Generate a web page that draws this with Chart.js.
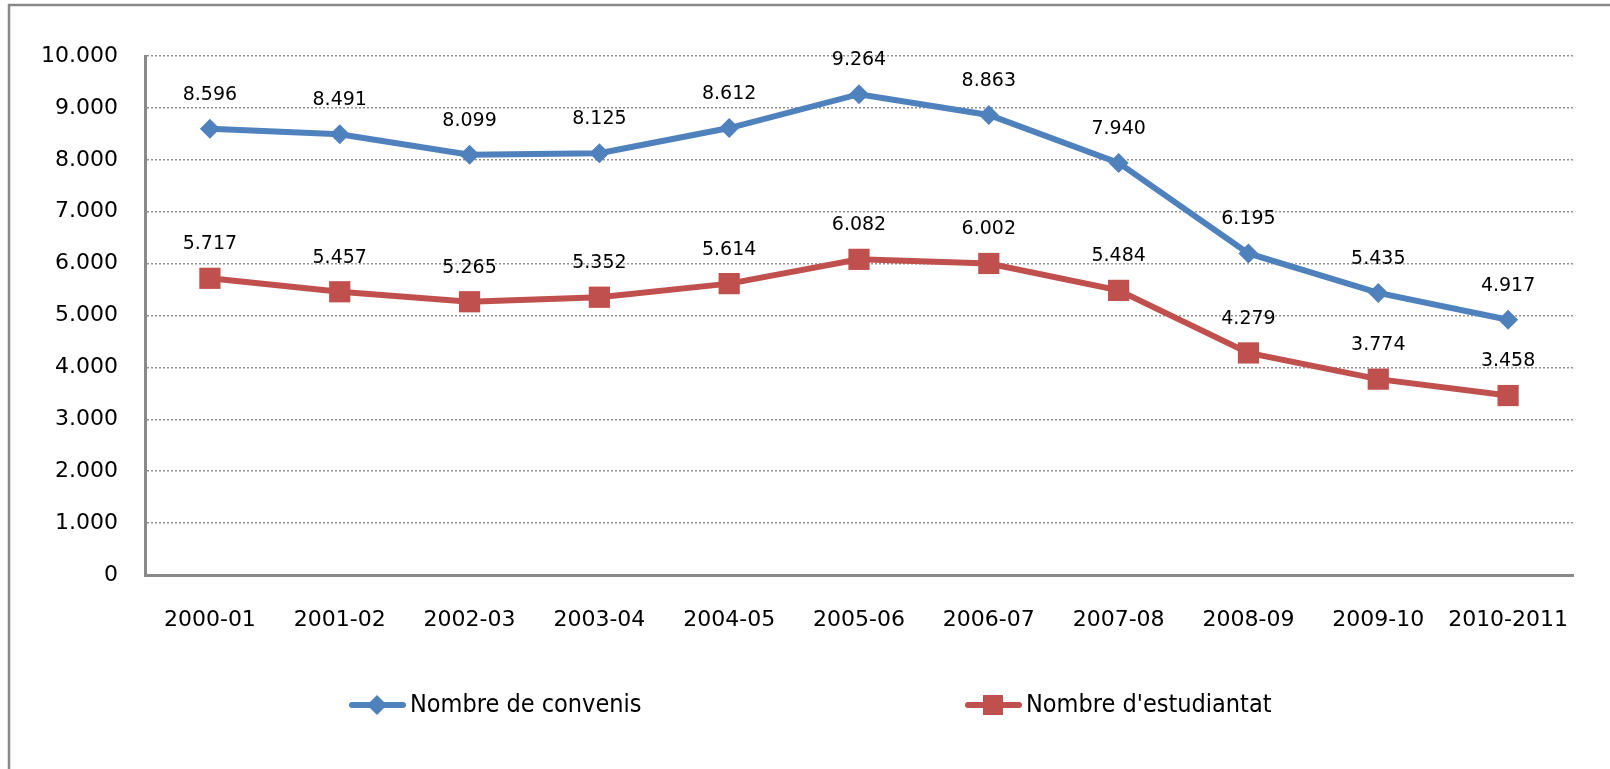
<!DOCTYPE html>
<html>
<head>
<meta charset="utf-8">
<title>Convenis i estudiantat</title>
<script src="https://cdn.jsdelivr.net/npm/chart.js@4/dist/chart.umd.min.js"></script>
<style>
  body { margin: 0; background: #fff; }
  canvas { display: block; }
</style>
</head>
<body>
<canvas id="chart" width="1610" height="769"></canvas>
<script>
'use strict'

// DATA
const cursos = ['2000-01', '2001-02', '2002-03', '2003-04', '2004-05', '2005-06', '2006-07', '2007-08', '2008-09', '2009-10', '2010-2011'];
const convenis = [8596, 8491, 8099, 8125, 8612, 9264, 8863, 7940, 6195, 5435, 4917];
const estudiantat = [5717, 5457, 5265, 5352, 5614, 6082, 6002, 5484, 4279, 3774, 3458];
const seriesNames = ['Nombre de convenis', "Nombre d'estudiantat"];

const blue = '#4F81BD';
const red = '#C0504D';
const axisGray = '#898989';
const mainFont = '"DejaVu Sans", Verdana, sans-serif';
const legendFont = '"Liberation Sans Narrow", "DejaVu Sans Condensed", sans-serif';

// 8596 -> 8.596
function fmt(v){
  return String(v).replace(/\B(?=(\d{3})+(?!\d))/g, '.');
}

// outer frame: only top and left edges are inside the picture
const framePlugin = {
  id: 'frame',
  beforeDraw(chart){
    const ctx = chart.ctx;
    ctx.save();
    ctx.strokeStyle = axisGray;
    ctx.lineWidth = 2.5;
    ctx.beginPath();
    ctx.moveTo(9, chart.height);
    ctx.lineTo(9, 5);
    ctx.lineTo(chart.width, 5);
    ctx.stroke();
    ctx.restore();
  }
};

// value labels above each point
const labelPlugin = {
  id: 'valueLabels',
  afterDatasetsDraw(chart){
    const ctx = chart.ctx;
    ctx.save();
    ctx.font = '19px ' + mainFont;
    ctx.fillStyle = '#000';
    ctx.textAlign = 'center';
    ctx.textBaseline = 'middle';
    chart.data.datasets.forEach(function(ds, i){
      const meta = chart.getDatasetMeta(i);
      meta.data.forEach(function(pt, j){
        ctx.fillText(fmt(ds.data[j]), pt.x, pt.y - 34);
      });
    });
    ctx.restore();
  }
};

// excel style legend: line + marker + text
const legendPlugin = {
  id: 'lineLegend',
  afterDraw(chart){
    const ctx = chart.ctx;
    const starts = [349, 965];
    const y = 705;
    ctx.save();
    chart.data.datasets.forEach(function(ds, i){
      const x0 = starts[i];
      ctx.strokeStyle = ds.borderColor;
      ctx.lineWidth = 6;
      ctx.lineCap = 'round';
      ctx.beginPath();
      ctx.moveTo(x0 + 3, y);
      ctx.lineTo(x0 + 54, y);
      ctx.stroke();
      ctx.fillStyle = ds.pointBackgroundColor;
      const cx = x0 + 28;
      if (ds.pointStyle === 'rectRot') {
        ctx.beginPath();
        ctx.moveTo(cx - 10, y);
        ctx.lineTo(cx, y - 10);
        ctx.lineTo(cx + 10, y);
        ctx.lineTo(cx, y + 10);
        ctx.closePath();
        ctx.fill();
      } else {
        ctx.fillRect(cx - 10, y - 10, 20, 20);
      }
      ctx.fillStyle = '#000';
      ctx.font = '25px ' + legendFont;
      ctx.textAlign = 'left';
      ctx.textBaseline = 'middle';
      ctx.fillText(ds.label, x0 + 61, y);
    });
    ctx.restore();
  }
};

const ctx = document.getElementById('chart').getContext('2d');
const chart = new Chart(ctx, {
  type: 'line',
  data: {
    labels: cursos,
    datasets: [
      {
        label: seriesNames[0],
        data: convenis,
        borderColor: blue,
        backgroundColor: blue,
        pointBackgroundColor: blue,
        pointBorderColor: blue,
        borderWidth: 6,
        pointStyle: 'rectRot',
        pointRadius: 10,
        pointBorderWidth: 0,
        tension: 0,
        fill: false
      },
      {
        label: seriesNames[1],
        data: estudiantat,
        borderColor: red,
        backgroundColor: red,
        pointBackgroundColor: red,
        pointBorderColor: red,
        borderWidth: 6,
        pointStyle: 'rect',
        pointRadius: 15,
        pointBorderWidth: 0,
        tension: 0,
        fill: false
      }
    ]
  },
  options: {
    responsive: false,
    animation: false,
    devicePixelRatio: 1,
    layout: { padding: { top: 56, right: 37, left: 20, bottom: 0 } },
    plugins: {
      legend: { display: false },
      tooltip: { enabled: false }
    },
    scales: {
      x: {
        offset: true,
        grid: { display: false, drawTicks: false },
        border: { display: true, color: axisGray, width: 3 },
        ticks: {
          color: '#000',
          font: { family: mainFont, size: 22 },
          padding: 32,
          maxRotation: 0,
          autoSkip: false
        },
        afterFit: function(scale){ scale.height = 194; }
      },
      y: {
        min: 0,
        max: 10000,
        grid: { color: '#909090', lineWidth: 1.5, drawTicks: false },
        border: { display: true, color: axisGray, width: 3, dash: [2, 2] },
        ticks: {
          stepSize: 1000,
          color: '#000',
          font: { family: mainFont, size: 22 },
          padding: 27,
          callback: function(v){ return fmt(v); }
        },
        afterFit: function(scale){ scale.width = 125; }
      }
    }
  },
  plugins: [framePlugin, labelPlugin, legendPlugin]
});
</script>
</body>
</html>
